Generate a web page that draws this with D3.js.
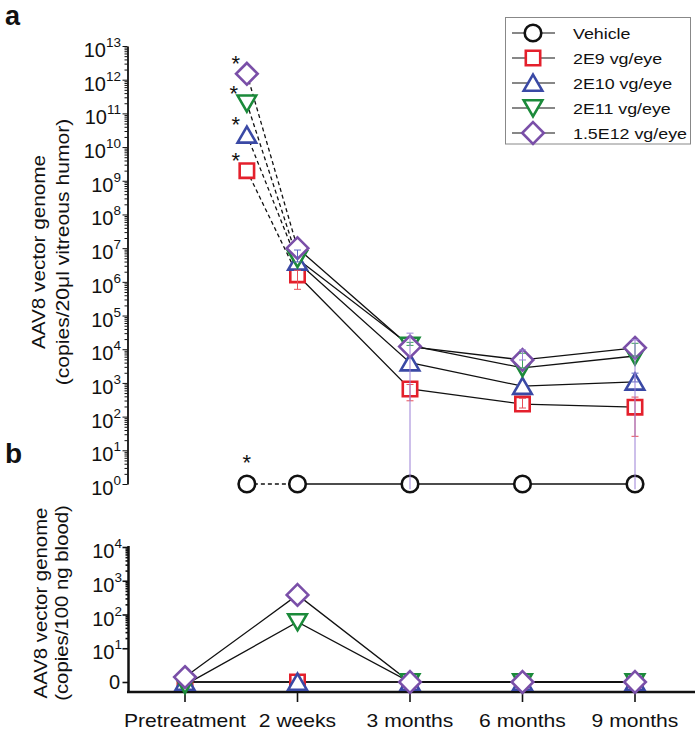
<!DOCTYPE html>
<html>
<head>
<meta charset="utf-8">
<script src="https://cdn.jsdelivr.net/npm/d3@7"></script>
<style>
  html, body { margin: 0; padding: 0; background: #fff; }
  svg { display: block; font-family: "Liberation Sans", Arial, Helvetica, sans-serif; }
</style>
</head>
<body>
<script>
// ---------------- DATA ----------------
const categories = ["Pretreatment", "2 weeks", "3 months", "6 months", "9 months"];
const seriesNames = ["Vehicle", "2E9 vg/eye", "2E10 vg/eye", "2E11 vg/eye", "1.5E12 vg/eye"];
const seriesColors = ["#111111", "#e4202c", "#3a49a5", "#1b8a3a", "#7a4fa8"];
const errColors = ["#111111", "#e8505a", "#5a66c0", "#3aa05a", "#9b80d6"];
const seriesShapes = ["circle", "square", "triUp", "triDown", "diamond"];

// panel a: x positions (category index) of the time points
const vitreousX = [0.55, 1, 2, 3, 4];
// panel a values (copies/20 µl vitreous humor); 1 = 10^0
const vitVehicle = [1, 1, 1, 1, 1];
const vit2E9 = [2e9, 1.6e6, 660, 235, 190];
const vit2E10 = [2.3e10, 3.9e6, 4000, 800, 1070];
const vit2E11 = [2e11, 4.8e6, 1.3e4, 2800, 6300];
const vit15E12 = [1.5e12, 1e7, 1.2e4, 4800, 1.1e4];
// panel a error bars [low, high] per time point (null = none visible)
const errVehicle = [null, null, null, null, null];
const err2E9 = [null, [6e5, 2.2e6], [295, 900], [180, 350], [26, 380]];
const err2E10 = [null, [3.9e6, 8.8e6], null, null, [1070, 1950]];
const err2E11 = [null, null, [1.3e4, 1.6e4], [2800, 7600], [6300, 1.5e4]];
const err15E12 = [null, null, [0.7, 3e4], [4800, 9500], [0.7, 1.9e4]];
// significance asterisks on panel a (series index)
const starSeries = [0, 1, 2, 3, 4];

// panel b: x positions and values (copies/100 ng blood); 1 = "0"
const bloodX = [0, 1, 2, 3, 4];
const blood2E9 = [1, 1, 1, 1, 1];
const blood2E10 = [1, 1, 1, 1, 1];
const blood2E11 = [0.82, 60, 1, 1, 1];
const blood15E12 = [1.4, 380, 1, 1, 1];

const topDecades = d3.range(0, 14).map(k => Math.pow(10, k));
const botDecades = [1, 10, 100, 1000, 10000];
const botTickText = ["0", "10|1", "10|2", "10|3", "10|4"];

// ---------------- SETUP ----------------
const W = 700, H = 733;
const svg = d3.select("body").append("svg").attr("width", W).attr("height", H);

const x = d3.scaleLinear().domain([0, 4]).range([185, 635]);
const yTop = d3.scaleLog().domain([1, 1e13]).range([484, 46]);
const yBot = d3.scaleLog().domain([1, 1e4]).range([682, 547]);

function stretch(sel, k) {
  sel.each(function () {
    const L = this.getComputedTextLength();
    this.setAttribute("textLength", L * k);
    this.setAttribute("lengthAdjust", "spacingAndGlyphs");
  });
}

function shapePath(shape) {
  switch (shape) {
    case "circle": return "M8.3,0A8.3,8.3 0 1,1 -8.3,0A8.3,8.3 0 1,1 8.3,0Z";
    case "square": return "M-7.2,-7.2H7.2V7.2H-7.2Z";
    case "triUp": return "M0,-8.3L9.3,7.7H-9.3Z";
    case "triDown": return "M0,8.3L9.3,-7.7H-9.3Z";
    case "diamond": return "M0,-10.8L10.8,0L0,10.8L-10.8,0Z";
  }
}

function drawMarkers(g, xs, vals, yS, si) {
  g.selectAll(null).data(vals).enter().append("path")
    .attr("d", shapePath(seriesShapes[si]))
    .attr("transform", (d, i) => `translate(${x(xs[i])},${yS(d)})`)
    .attr("fill", "#fff")
    .attr("stroke", seriesColors[si])
    .attr("stroke-width", 2.6)
    .attr("stroke-linejoin", "miter");
}

// ---------------- PANEL A ----------------
const gA = svg.append("g");
const vitSeries = [vitVehicle, vit2E9, vit2E10, vit2E11, vit15E12];
const vitErr = [errVehicle, err2E9, err2E10, err2E11, err15E12];

// axis
const axA = gA.append("g").attr("transform", "translate(127.5,0)");
axA.call(d3.axisLeft(yTop).tickValues(topDecades).tickSize(5).tickSizeOuter(0).tickFormat(""));
const minorTop = [];
for (let k = 0; k < 13; k++) for (let m = 2; m <= 9; m++) minorTop.push(m * Math.pow(10, k));
axA.append("g").call(d3.axisLeft(yTop).tickValues(minorTop).tickSize(3).tickSizeOuter(0).tickFormat(""))
  .select(".domain").remove();
axA.selectAll("path.domain").attr("stroke", "#111").attr("stroke-width", 1.8);
axA.selectAll(".tick line").attr("stroke", "#111").attr("stroke-width", 1);
// labels 10^k
topDecades.forEach((v, k) => {
  const t = gA.append("text").attr("x", 121).attr("y", yTop(v) + 11)
    .attr("text-anchor", "end").attr("fill", "#111");
  t.append("tspan").attr("font-size", 20).text("10");
  t.append("tspan").attr("font-size", 13.5).attr("dy", -10).text(String(k));
});

// lines
const lineA = d3.line().x(d => x(d[0])).y(d => yTop(d[1]));
vitSeries.forEach((vals, si) => {
  const pts = vals.map((v, i) => [vitreousX[i], v]);
  gA.append("path").attr("d", lineA(pts.slice(0, 2)))
    .attr("fill", "none").attr("stroke", "#111").attr("stroke-width", 1.3)
    .attr("stroke-dasharray", "4,3");
  gA.append("path").attr("d", lineA(pts.slice(1)))
    .attr("fill", "none").attr("stroke", "#111").attr("stroke-width", 1.3);
});
// markers
vitSeries.forEach((vals, si) => drawMarkers(gA, vitreousX, vals, yTop, si));
// error bars
vitErr.forEach((errs, si) => {
  errs.forEach((e, i) => {
    if (!e) return;
    const cx = x(vitreousX[i]);
    const col = errColors[si];
    gA.append("line").attr("x1", cx).attr("x2", cx)
      .attr("y1", yTop(e[0])).attr("y2", yTop(e[1]))
      .attr("stroke", col).attr("stroke-width", 1);
    e.forEach(v => {
      if (v < 1) return;
      gA.append("line").attr("x1", cx - 3.5).attr("x2", cx + 3.5)
        .attr("y1", yTop(v)).attr("y2", yTop(v))
        .attr("stroke", col).attr("stroke-width", 1);
    });
  });
});
// asterisks
starSeries.forEach(si => {
  const v = vitSeries[si][0];
  const cx = x(vitreousX[0]);
  const dx = si === 0 ? 0 : (si === 3 ? -13 : -11);
  const dy = si === 0 ? -27 : -15;
  gA.append("text").attr("x", cx + dx).attr("y", yTop(v) + dy + 12.5)
    .attr("text-anchor", "middle").attr("font-size", 22).attr("fill", "#111").text("*");
});

// y title
const tA = gA.append("g").attr("transform", "translate(0,252)");
stretch(tA.append("text").attr("transform", "translate(45,0) rotate(-90)")
  .attr("text-anchor", "middle").attr("font-size", 18.5).attr("fill", "#111")
  .text("AAV8 vector genome"), 1.12);
stretch(tA.append("text").attr("transform", "translate(68.5,0) rotate(-90)")
  .attr("text-anchor", "middle").attr("font-size", 18.5).attr("fill", "#111")
  .text("(copies/20\u03bcl vitreous humor)"), 1.14);

// legend
const leg = svg.append("g");
leg.append("rect").attr("x", 505.5).attr("y", 17.5).attr("width", 185).attr("height", 126.5)
  .attr("fill", "#fff").attr("stroke", "#888").attr("stroke-width", 1);
const legY = d3.scaleLinear().domain([0, 4]).range([33, 133]);
seriesNames.forEach((name, si) => {
  const yy = legY(si);
  leg.append("line").attr("x1", 512).attr("x2", 555).attr("y1", yy).attr("y2", yy)
    .attr("stroke", "#111").attr("stroke-width", 1.2);
  leg.append("path").attr("d", shapePath(seriesShapes[si]))
    .attr("transform", `translate(533,${yy})`)
    .attr("fill", "#fff").attr("stroke", seriesColors[si]).attr("stroke-width", 2.6);
  stretch(leg.append("text").attr("x", 573).attr("y", yy + 5.8)
    .attr("font-size", 15.5).attr("fill", "#111").text(name), 1.15);
});

// panel letters
svg.append("text").attr("x", 5).attr("y", 25).attr("font-size", 27).attr("font-weight", "bold").attr("fill", "#111").text("a");
svg.append("text").attr("x", 5).attr("y", 463).attr("font-size", 28).attr("font-weight", "bold").attr("fill", "#111").text("b");

// ---------------- PANEL B ----------------
const gB = svg.append("g");
const bloodSeries = [null, blood2E9, blood2E10, blood2E11, blood15E12];

// y axis
const axB = gB.append("g").attr("transform", "translate(128.5,0)");
axB.call(d3.axisLeft(yBot).tickValues(botDecades).tickSize(6).tickSizeOuter(0).tickFormat(""));
const minorBot = [];
for (let k = 1; k < 4; k++) for (let m = 2; m <= 9; m++) minorBot.push(m * Math.pow(10, k));
axB.append("g").call(d3.axisLeft(yBot).tickValues(minorBot).tickSize(3).tickSizeOuter(0).tickFormat(""))
  .select(".domain").remove();
axB.selectAll("path.domain").remove();
axB.append("line").attr("x1", 0).attr("x2", 0).attr("y1", yBot(1e4) - 1).attr("y2", 693)
  .attr("stroke", "#111").attr("stroke-width", 2.5);
axB.selectAll(".tick line").attr("stroke", "#111").attr("stroke-width", 1.6);
botDecades.forEach((v, i) => {
  const parts = botTickText[i].split("|");
  const t = gB.append("text").attr("x", parts.length > 1 ? 122 : 120).attr("y", yBot(v) + (parts.length > 1 ? 11 : 7))
    .attr("text-anchor", "end").attr("fill", "#111");
  t.append("tspan").attr("font-size", 20).text(parts[0]);
  if (parts.length > 1) t.append("tspan").attr("font-size", 13.5).attr("dy", -10).text(parts[1]);
});
// x axis
gB.append("line").attr("x1", 127).attr("x2", 695).attr("y1", 692).attr("y2", 692)
  .attr("stroke", "#111").attr("stroke-width", 2.5);
categories.forEach((c, i) => {
  gB.append("line").attr("x1", x(i)).attr("x2", x(i)).attr("y1", 692).attr("y2", 702)
    .attr("stroke", "#111").attr("stroke-width", 1.6);
  stretch(gB.append("text").attr("x", x(i)).attr("y", 727).attr("text-anchor", "middle")
    .attr("font-size", 18.5).attr("fill", "#111").text(c), 1.14);
});

// lines
const lineB = d3.line().x(d => x(d[0])).y(d => yBot(d[1]));
bloodSeries.forEach((vals, si) => {
  if (!vals) return;
  gB.append("path").attr("d", lineB(vals.map((v, i) => [bloodX[i], v])))
    .attr("fill", "none").attr("stroke", "#111").attr("stroke-width", 1.3);
});
bloodSeries.forEach((vals, si) => { if (vals) drawMarkers(gB, bloodX, vals, yBot, si); });

// y title panel b
const tB = gB.append("g").attr("transform", "translate(0,603)");
stretch(tB.append("text").attr("transform", "translate(47,0) rotate(-90)")
  .attr("text-anchor", "middle").attr("font-size", 18.5).attr("fill", "#111")
  .text("AAV8 vector genome"), 1.1);
stretch(tB.append("text").attr("transform", "translate(67.5,0) rotate(-90)")
  .attr("text-anchor", "middle").attr("font-size", 18.5).attr("fill", "#111")
  .text("(copies/100 ng blood)"), 1.1);
</script>
</body>
</html>
